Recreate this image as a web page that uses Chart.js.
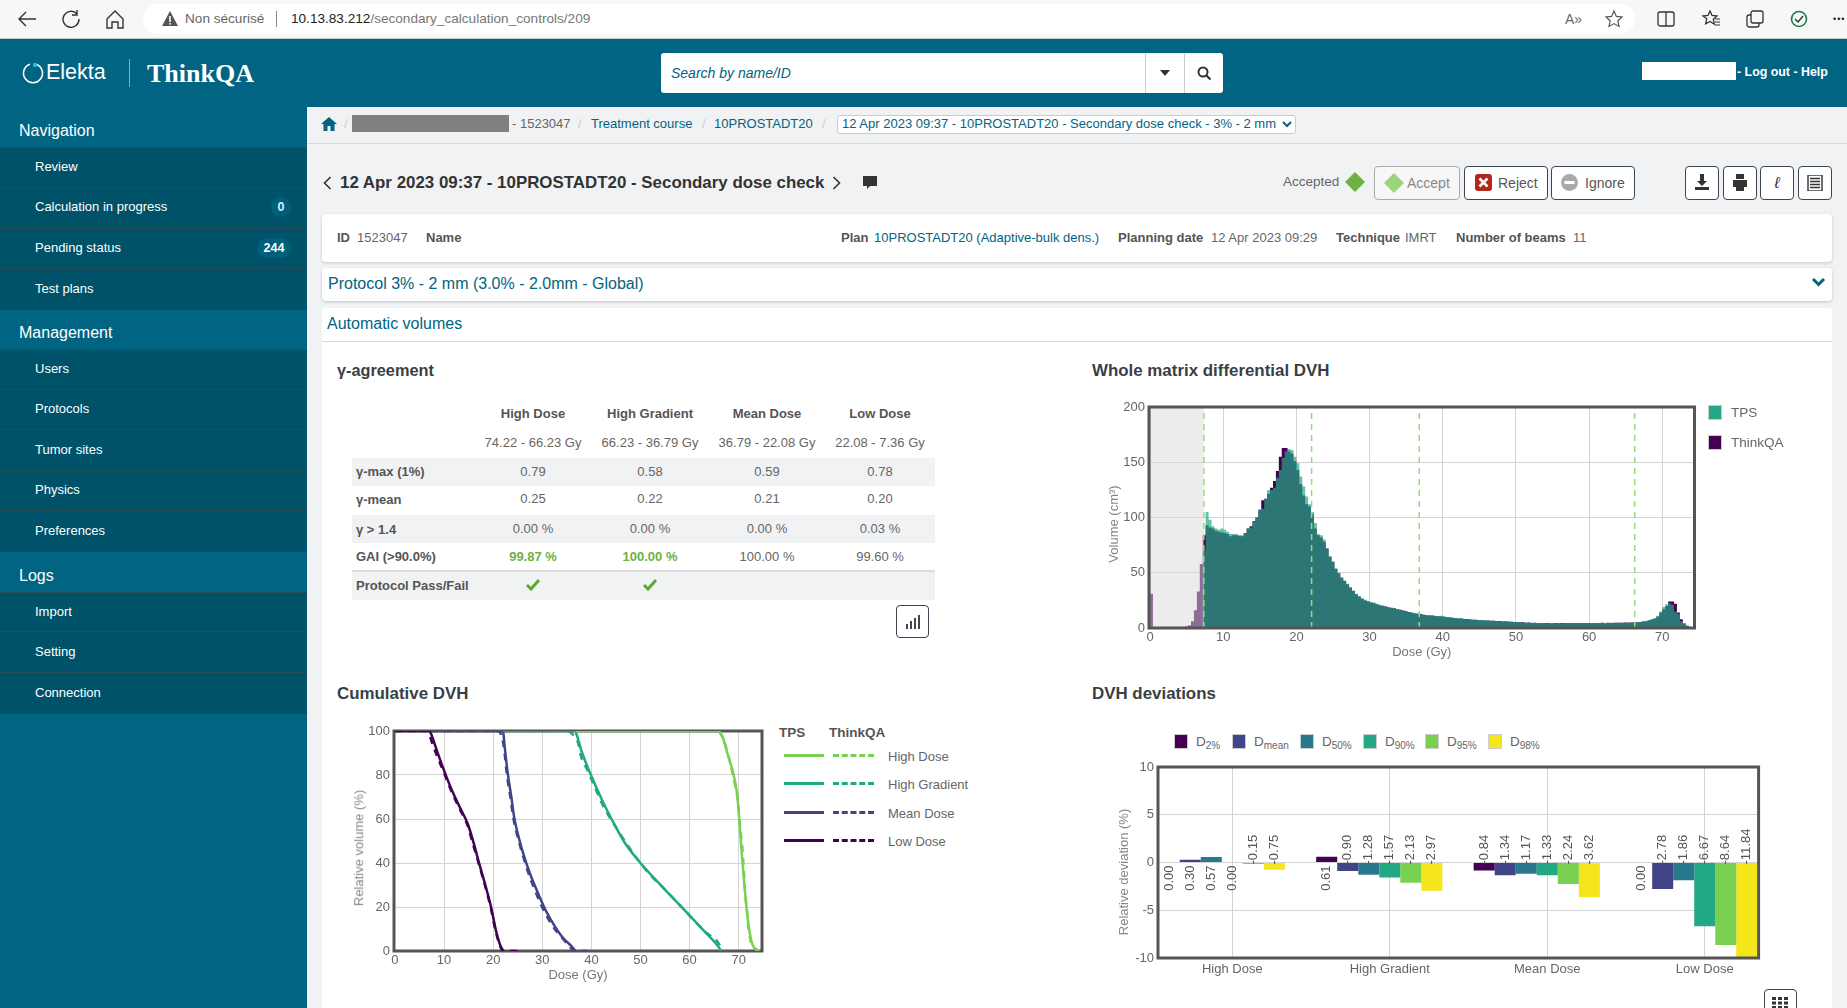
<!DOCTYPE html>
<html>
<head>
<meta charset="utf-8">
<title>ThinkQA</title>
<script src="https://cdn.jsdelivr.net/npm/chart.js@4"></script>
<style>
html, body { margin: 0; padding: 0; width: 1847px; height: 1008px; overflow: hidden; background: #f1f2f4; }
body { font-family: "Liberation Sans", Arial, sans-serif; font-size: 13px; color: #555; position: relative; }
.t { position: absolute; white-space: nowrap; transform: translateY(-50%); line-height: 1.2; }
.c { transform: translate(-50%, -50%); }
.r { transform: translate(-50%, -50%) rotate(-90deg); }
.b { position: absolute; box-sizing: border-box; }
.btn { position: absolute; box-sizing: border-box; border: 1px solid #3c4650; border-radius: 4px; background: #fff; }
canvas { position: absolute; }
sub { font-size: 10px; vertical-align: -3px; line-height: 0; }
svg { position: absolute; }
</style>
</head>
<body>
<canvas id="diff_dvh" width="608" height="269" style="left:1102px;top:395px;z-index:2"></canvas>
<canvas id="cum_dvh" width="427" height="268" style="left:347px;top:719px;z-index:2"></canvas>
<canvas id="dev_dvh" width="660" height="233" style="left:1112px;top:755px;z-index:2"></canvas>
<script>
//////////////////////////////dades differential DVH////////////////////////////
const doseBins = [
  0,0.4,0.8,1.2,1.6,2,2.4,2.8,3.2,3.6,
  4,4.4,4.8,5.2,5.6,6,6.4,6.8,7.2,7.6,
  8,8.4,8.8,9.2,9.6,10,10.4,10.8,11.2,11.6,
  12,12.4,12.8,13.2,13.6,14,14.4,14.8,15.2,15.6,
  16,16.4,16.8,17.2,17.6,18,18.4,18.8,19.2,19.6,
  20,20.4,20.8,21.2,21.6,22,22.4,22.8,23.2,23.6,
  24,24.4,24.8,25.2,25.6,26,26.4,26.8,27.2,27.6,
  28,28.4,28.8,29.2,29.6,30,30.4,30.8,31.2,31.6,
  32,32.4,32.8,33.2,33.6,34,34.4,34.8,35.2,35.6,
  36,36.4,36.8,37.2,37.6,38,38.4,38.8,39.2,39.6,
  40,40.4,40.8,41.2,41.6,42,42.4,42.8,43.2,43.6,
  44,44.4,44.8,45.2,45.6,46,46.4,46.8,47.2,47.6,
  48,48.4,48.8,49.2,49.6,50,50.4,50.8,51.2,51.6,
  52,52.4,52.8,53.2,53.6,54,54.4,54.8,55.2,55.6,
  56,56.4,56.8,57.2,57.6,58,58.4,58.8,59.2,59.6,
  60,60.4,60.8,61.2,61.6,62,62.4,62.8,63.2,63.6,
  64,64.4,64.8,65.2,65.6,66,66.4,66.8,67.2,67.6,
  68,68.4,68.8,69.2,69.6,70,70.4,70.8,71.2,71.6,
  72,72.4,72.8,73.2,73.6,74,74.4
];
const diffTps = [
  0,0,0,0,0,0,0,0,0,0,
  0,0,0,0,0,0,0,0,70,105,
  98,92,90,89,90,89,87,85,85,85,
  84,84,86,90,91,96,100,107,108,117,
  125,125,127,136,143,154,160,162,161,155,
  149,137,128,119,112,105,95,85,84,80,
  72,65,60,54,50,46,43,40,37,34,
  31,29,27,25.5,24.5,23.5,23,22,21,20.5,
  19.5,19,18.5,18,17,16.5,15.5,15,14.5,14,
  13.5,13,12.5,12,11.8,11.5,11,11,10.8,11,
  10.5,10,9.5,9,9,8.8,8.5,8.2,8,7.8,
  7.5,7.3,7.2,7,7,6.8,6.6,6.5,6.4,6.2,
  6,6,5.8,5.6,5.5,5.4,5.2,5,4.9,4.8,
  4.7,4.6,4.5,4.5,4.4,4.4,4.3,4.5,4.4,4.5,
  4.4,4.6,4.5,4.4,4.5,4.6,4.5,4.4,4.5,4.4,
  4.3,4.4,4.5,4.4,4.6,4.5,4.6,4.7,4.6,4.8,
  4.7,4.8,4.8,4.9,4.9,5,5.2,5.5,5.8,6.3,
  7.2,8,8.5,11,15,19,21.5,22.5,21,15,
  13,6,4,2,0.8,0.3,0
];
const diffThinkQA = [
  31,0,0,0,0,0,0,0,0,0.2,
  0.5,1,1.5,2.5,6,16,33,58,84,93,
  91,90,88,87,86.5,86,85,83,84,84,
  83.5,83,86,90,92,96.5,100,107,115.5,117,
  121.5,127,133,142,155,163,163,160,158,151,
  143,130,120,112,110,103,90,84,82,78,
  72,64.5,60,53.5,49.5,45.5,42.5,39.5,36.5,33.5,
  30.5,28.5,26.5,25,24,23,22.5,21.5,20.5,20,
  19.5,18.8,18.2,17.8,17,16.5,15.8,15.2,14.5,13.8,
  13.2,12.8,12.6,12,11.6,11.4,11.2,10.9,10.6,10.5,
  10.2,9.8,9.5,9.2,8.8,8.7,8.6,8.1,8.1,7.7,
  7.4,7.4,7.1,7.1,6.9,6.9,6.5,6.6,6.3,6.3,
  5.9,6.1,5.7,5.7,5.4,5.5,5.1,5.1,4.8,4.9,
  4.6,4.7,4.4,4.6,4.3,4.5,4.4,4.4,4.5,4.4,
  4.5,4.5,4.6,4.3,4.6,4.5,4.6,4.3,4.6,4.3,
  4.4,4.3,4.6,4.3,4.7,4.4,4.7,4.6,4.7,4.7,
  4.8,4.7,4.9,4.8,5,4.9,5.3,5.4,5.9,6.2,
  7,7.8,8.5,10.5,14,17,20,24,24,22,
  14,8,4,2,0.8,0.3,0
];
const doseLimits = [7.36, 22.08, 36.79, 66.23];
////////////////////////////////////////////////////////////////////////////////

//////////////////////////////dades cumulative DVH//////////////////////////////
const highTpsDose = [36.79,65.5,66.1,66.8,67.8,68.8,69.6,70,70.3,70.7,71.1,71.6,72.2,72.8,73.5,74.2];
const highTpsVol = [100,100,99.5,96.8,89,81.7,72.6,63.5,54.4,42.3,31.8,19.7,9,3,0.8,0];
const highQaDose = [36.79,65.7,66.4,67.1,68.1,69.1,69.8,70.4,70.8,71.1,71.3,71.7,72,72.6,73.5,74.2];
const highQaVol = [100,100,98.5,95,87,77,69,54.4,45.5,34.8,27,18,10.4,3,0.8,0];
const gradTpsDose = [22.08,36.6,36.9,38,40,42.1,44.1,46.8,50,54.6,60.1,63,66.1,66.4];
const gradTpsVol = [100,100,99,90.8,79.5,69,60,49.2,40,28.8,15.9,9,1.2,0];
const gradQaDose = [22.08,35.2,35.9,37.4,37.7,39.3,40.9,42.6,44.7,46.8,49.2,51.9,54.6,60.1,63,66.4,66.6];
const gradQaVol = [100,100,99,93.8,90,81.7,73.4,65,57.4,50,42.3,34.8,28.8,15.9,9,1.5,0];
const meanTpsDose = [7.36,21.9,22.08,22.3,23,23.7,24.3,25.4,26.4,27.7,29.1,30.8,32.5,34.2,35.9,36.79];
const meanTpsVol = [100,100,99,93.8,80.2,70,60.5,50,42.3,34,26.5,18,11.4,6,2.3,0];
const meanQaDose = [7.36,21,21.6,22.2,22.8,23.5,24.1,25.2,26.2,27.4,28.7,30.4,32.1,34,35.5,36.5,39.3];
const meanQaVol = [100,100,98.3,92.3,80,70,60.5,50,42.3,34,26.5,18,11.4,6,2.3,0,0];
const lowTpsDose = [0,7,7.3,7.8,8.75,10,11.8,13.5,14.85,16.2,17.2,18.4,19.6,20.6,21.5,22.08];
const lowTpsVol = [100,100,99,96,89.7,82,72,64,57.6,47.7,39.4,30,19.7,9,2.3,0];
const lowQaDose = [0,6.5,7,7.5,8.5,9.8,11.6,13.3,14.7,16,17.1,18.3,19.5,20.5,21.4,22,25.7];
const lowQaVol = [100,100,98.5,95,89,82,72,64,57.6,47.7,39.4,30,19.7,9,2.3,0,0];
////////////////////////////////////////////////////////////////////////////////

//////////////////////////////dades DVH deviations//////////////////////////////
const regions = ["High Dose", "High Gradient", "Mean Dose", "Low Dose"];
const regionColors = ["#7ad151", "#22a884", "#414487", "#440154"];
const d2 = [0.00, 0.61, -0.84, 0.00];
const dMean = [0.30, -0.90, -1.34, -2.78];
const d50 = [0.57, -1.28, -1.17, -1.86];
const d90 = [0.00, -1.57, -1.33, -6.67];
const d95 = [-0.15, -2.13, -2.24, -8.64];
const d98 = [-0.75, -2.97, -3.62, -11.84];
const devNames = ["2%", "mean", "50%", "90%", "95%", "98%"];
const devColors = ["#440154", "#414487", "#2a788e", "#22a884", "#7ad151", "#f5e51b"];
////////////////////////////////////////////////////////////////////////////////

//////////////////////////////dades taula gamma/////////////////////////////////
const bandRanges = ["74.22 - 66.23 Gy", "66.23 - 36.79 Gy", "36.79 - 22.08 Gy", "22.08 - 7.36 Gy"];
const gammaMax = ["0.79", "0.58", "0.59", "0.78"];
const gammaMean = ["0.25", "0.22", "0.21", "0.20"];
const gammaOver = ["0.00 %", "0.00 %", "0.00 %", "0.03 %"];
const gai = ["99.87 %", "100.00 %", "100.00 %", "99.60 %"];
////////////////////////////////////////////////////////////////////////////////

/////////////////////////////helpers per la pagina//////////////////////////////
function box(x, y, w, h, css) {
  let d = document.createElement('div');
  d.className = 'b';
  d.style.cssText = 'left:' + x + 'px;top:' + y + 'px;width:' + w + 'px;height:' + h + 'px;' + (css || '');
  document.body.appendChild(d);
  return d;
}
function text(s, x, y, css, centered) {
  let d = document.createElement('div');
  d.className = centered ? 't c' : 't';
  d.style.cssText = 'left:' + x + 'px;top:' + y + 'px;z-index:3;' + (css || '');
  d.innerHTML = s;
  document.body.appendChild(d);
  return d;
}
function button(x, y, w, h, inner, css) {
  let d = document.createElement('div');
  d.className = 'btn';
  d.style.cssText = 'left:' + x + 'px;top:' + y + 'px;width:' + w + 'px;height:' + h + 'px;z-index:3;' + (css || '');
  d.innerHTML = inner || '';
  document.body.appendChild(d);
  return d;
}
function icon(x, y, w, h, inner) {
  let s = document.createElementNS('http://www.w3.org/2000/svg', 'svg');
  s.setAttribute('width', w);
  s.setAttribute('height', h);
  s.setAttribute('viewBox', '0 0 ' + w + ' ' + h);
  s.style.cssText = 'left:' + x + 'px;top:' + y + 'px;z-index:4';
  s.innerHTML = inner;
  document.body.appendChild(s);
}
////////////////////////////////////////////////////////////////////////////////

const TEAL = '#006482';
const DARK = '#005269';

////////////////////////////////barra navegador/////////////////////////////////
box(0, 0, 1847, 39, 'background:#f7f7f7;border-bottom:1px solid #c8c8c8');
box(143, 4, 1492, 30, 'background:#fff;border-radius:15px');
icon(16, 8, 22, 22, '<path d="M20 11H3M10 4l-7 7 7 7" fill="none" stroke="#333" stroke-width="1.4"/>');
icon(60, 8, 22, 22, '<path d="M17 6a8 8 0 1 0 2 5M17 2v5h-5" fill="none" stroke="#333" stroke-width="1.4"/>');
icon(104, 8, 22, 22, '<path d="M3 11l8-8 8 8v9h-5v-6H8v6H3z" fill="none" stroke="#333" stroke-width="1.4"/>');
icon(161, 10, 18, 18, '<path d="M9 1l8 15H1z" fill="#555"/><rect x="8.2" y="6" width="1.6" height="6" fill="#fff"/><rect x="8.2" y="13" width="1.6" height="1.6" fill="#fff"/>');
text('Non sécurisé', 185, 19, 'font-size:13.6px;color:#666');
box(276, 11, 1, 16, 'background:#888');
text('<span style="color:#222">10.13.83.212</span>/secondary_calculation_controls/209', 291, 19, 'font-size:13.6px;color:#777');
text('A»', 1565, 19, 'font-size:14px;color:#666');
icon(1604, 9, 20, 20, '<path d="M10 2l2.4 5.4 5.6.6-4.2 3.8 1.2 5.6L10 14.6 5 17.4l1.2-5.6L2 8l5.6-.6z" fill="none" stroke="#555" stroke-width="1.2"/>');
icon(1656, 9, 20, 20, '<rect x="2" y="3" width="16" height="14" rx="2" fill="none" stroke="#333" stroke-width="1.3"/><path d="M10 3v14" stroke="#333" stroke-width="1.3"/>');
icon(1701, 9, 20, 20, '<path d="M9 2l2 4.5 5 .5-3.7 3.3 1 4.9L9 12.4 4.7 14.7l1-4.9L2 7l5-.5z" fill="none" stroke="#333" stroke-width="1.3"/><path d="M14 13h5M14 16h5M14 10h5" stroke="#333" stroke-width="1.2"/>');
icon(1745, 9, 20, 20, '<rect x="2" y="6" width="12" height="12" rx="2" fill="none" stroke="#333" stroke-width="1.3"/><rect x="6" y="2" width="12" height="12" rx="2" fill="#f7f7f7" stroke="#333" stroke-width="1.3"/>');
icon(1789, 9, 20, 20, '<circle cx="10" cy="10" r="7.5" fill="none" stroke="#1a7a4a" stroke-width="1.6"/><path d="M6 10l3 3 5-6" fill="none" stroke="#333" stroke-width="1.4"/>');
text('•••', 1833, 19, 'font-size:9px;color:#222;letter-spacing:1px');
////////////////////////////////////////////////////////////////////////////////

////////////////////////////////capçalera///////////////////////////////////////
box(0, 39, 1847, 68, 'background:' + TEAL);
icon(20, 60, 26, 26, '<path d="M16 4.2a9.5 9.5 0 1 1-6 0" fill="none" stroke="#fff" stroke-width="1.6"/><circle cx="15" cy="5" r="2.2" fill="#2fb7e0"/>');
text('Elekta', 46, 73, 'font-size:21.5px;color:#fff');
box(129, 59, 1, 28, 'background:#7fb0c0');
text('ThinkQA', 147, 74, 'font-family:\'Liberation Serif\',serif;font-size:26px;font-weight:bold;color:#fff');
box(661, 53, 562, 40, 'background:#fff;border-radius:3px');
box(1145, 53, 1, 40, 'background:#ccc;z-index:2');
box(1184, 53, 1, 40, 'background:#ccc;z-index:2');
text('Search by name/ID', 671, 73, 'font-size:14px;font-style:italic;color:' + TEAL);
icon(1160, 70, 10, 6, '<path d="M0 0h10L5 6z" fill="#333"/>');
icon(1197, 66, 14, 14, '<circle cx="6" cy="6" r="4.5" fill="none" stroke="#333" stroke-width="2"/><path d="M9.5 9.5L13.5 13.5" stroke="#333" stroke-width="2.2"/>');
box(1642, 62, 94, 18, 'background:#fff');
text('- Log out - Help', 1737, 72, 'font-size:12.4px;color:#fff;font-weight:bold');
////////////////////////////////////////////////////////////////////////////////

////////////////////////////////menu lateral////////////////////////////////////
box(0, 107, 307, 901, 'background:' + TEAL);
const sideHeaders = [["Navigation", 131], ["Management", 333], ["Logs", 576]];
const sideRows = [
  ["Review", 147, 187], ["Calculation in progress", 187, 227], ["Pending status", 228, 268], ["Test plans", 268, 309],
  ["Users", 349, 389], ["Protocols", 389, 429], ["Tumor sites", 429, 470], ["Physics", 470, 510], ["Preferences", 510, 551],
  ["Import", 592, 632], ["Setting", 631, 672], ["Connection", 672, 713]
];
sideHeaders.forEach(h => text(h[0], 19, h[1], 'font-size:16px;color:#fff'));
sideRows.forEach(r => {
  box(0, r[1], 307, r[2] - r[1] + 1, 'background:' + DARK + ';border-top:1px solid #2d4a58');
  text(r[0], 35, (r[1] + r[2]) / 2, 'font-size:13px;color:#fff');
});
box(271, 197, 20, 20, 'background:#00607c;border-radius:10px;z-index:2');
text('0', 281, 207, 'font-size:12.5px;color:#dfeff4;font-weight:bold', true);
box(257, 238, 34, 20, 'background:#00607c;border-radius:10px;z-index:2');
text('244', 274, 248, 'font-size:12.5px;color:#fff;font-weight:bold', true);
////////////////////////////////////////////////////////////////////////////////

////////////////////////////////breadcrumb i titol//////////////////////////////
box(307, 143, 1540, 1, 'background:#d8d8d8');
icon(321, 116, 16, 16, '<path d="M8 1L0 8h2.5v7h4v-5h3v5h4V8H16z" fill="' + TEAL + '"/>');
text('/', 344, 124, 'color:#ccc');
box(352, 115, 157, 17, 'background:#808080');
text('- 1523047', 512, 124, 'color:#666');
text('/', 578, 124, 'color:#ccc');
text('Treatment course', 591, 124, 'color:' + TEAL);
text('/', 702, 124, 'color:#ccc');
text('10PROSTADT20', 714, 124, 'color:' + TEAL);
text('/', 822, 124, 'color:#ccc');
box(837, 115, 459, 19, 'background:#fff;border:1px solid #c8ccd0;border-radius:3px');
text('12 Apr 2023 09:37 - 10PROSTADT20 - Secondary dose check - 3% - 2 mm', 842, 124, 'color:' + TEAL);
icon(1282, 121, 10, 7, '<path d="M1 1l4 4 4-4" fill="none" stroke="' + TEAL + '" stroke-width="2"/>');

icon(323, 176, 9, 14, '<path d="M7.5 1L1.5 7l6 6" fill="none" stroke="#333" stroke-width="1.6"/>');
text('12 Apr 2023 09:37 - 10PROSTADT20 - Secondary dose check', 340, 183, 'font-size:16.9px;font-weight:bold;color:#333');
icon(832, 176, 9, 14, '<path d="M1.5 1l6 6-6 6" fill="none" stroke="#333" stroke-width="1.6"/>');
icon(862, 175, 16, 16, '<path d="M1 1h14v10h-7l-3 3v-3H1z" fill="#333"/>');
text('Accepted', 1283, 182, 'font-size:13.5px;color:#666');
icon(1345, 172, 20, 20, '<path d="M10 0l10 10-10 10L0 10z" fill="#6cb33f"/>');
button(1374, 166, 86, 34, '', 'border-color:#aaa;background:#f7f7f7');
icon(1384, 173, 20, 20, '<path d="M10 0l10 10-10 10L0 10z" fill="#9ad57c"/>');
text('Accept', 1407, 183, 'color:#888;font-size:14px');
button(1464, 166, 84, 34);
icon(1475, 174, 17, 17, '<rect width="17" height="17" rx="3" fill="#b3261e"/><path d="M4.5 4.5l8 8M12.5 4.5l-8 8" stroke="#fff" stroke-width="2.6"/>');
text('Reject', 1498, 183, 'color:#555;font-size:14px');
button(1551, 166, 84, 34);
icon(1561, 174, 17, 17, '<circle cx="8.5" cy="8.5" r="8.5" fill="#aaa"/><rect x="3.5" y="7" width="10" height="3" fill="#fff"/>');
text('Ignore', 1585, 183, 'color:#555;font-size:14px');
button(1685, 166, 34, 34);
icon(1694, 174, 16, 17, '<path d="M6 0h4v7h3l-5 5-5-5h3zM1 13h14v3H1z" fill="#333"/>');
button(1723, 166, 34, 34);
icon(1732, 174, 16, 17, '<path d="M4 0h8v5H4zM1 6h14v7h-3v4H4v-4H1z" fill="#333"/>');
button(1760, 166, 34, 34);
text('ℓ', 1777, 183, 'font-size:16px;color:#333;font-style:italic', true);
button(1798, 166, 34, 34);
icon(1807, 175, 16, 16, '<rect x="1" y="0" width="14" height="16" fill="none" stroke="#333" stroke-width="1.4"/><path d="M3 3.5h10M3 6.5h10M3 9.5h10M3 12.5h10" stroke="#333" stroke-width="1.4"/>');
////////////////////////////////////////////////////////////////////////////////

////////////////////////////////targetes////////////////////////////////////////
box(322, 214, 1510, 48, 'background:#fff;border-radius:4px;box-shadow:0 1px 3px #c4c6c8');
box(322, 268, 1510, 33, 'background:#fff;border-radius:4px;box-shadow:0 1px 3px #c4c6c8');
box(322, 308, 1510, 700, 'background:#fff;border-radius:4px 4px 0 0');
box(322, 341, 1510, 1, 'background:#d9d9d9');
const infoBold = [["ID", 337], ["Name", 426], ["Plan", 841], ["Planning date", 1118], ["Technique", 1336], ["Number of beams", 1456]];
const infoPlain = [["1523047", 357, '#666'], ["10PROSTADT20 (Adaptive-bulk dens.)", 874, TEAL], ["12 Apr 2023 09:29", 1211, '#666'], ["IMRT", 1405, '#666'], ["11", 1573, '#666']];
infoBold.forEach(i => text(i[0], i[1], 238, 'font-size:13px;font-weight:bold;color:#555'));
infoPlain.forEach(i => text(i[0], i[1], 238, 'font-size:13px;color:' + i[2]));
text('Protocol 3% - 2 mm (3.0% - 2.0mm - Global)', 328, 284, 'font-size:16px;color:' + TEAL);
icon(1811, 277, 15, 11, '<path d="M2 2l5.5 5.5L13 2" fill="none" stroke="' + TEAL + '" stroke-width="3"/>');
text('Automatic volumes', 327, 324, 'font-size:16px;color:' + TEAL);
const sectionStyle = 'font-size:16.9px;font-weight:bold;color:#3a3f45';
text('γ-agreement', 337, 371, 'font-size:16.3px;font-weight:bold;color:#3a3f45');
text('Whole matrix differential DVH', 1092, 371, sectionStyle);
text('Cumulative DVH', 337, 694, sectionStyle);
text('DVH deviations', 1092, 694, sectionStyle);
////////////////////////////////////////////////////////////////////////////////

////////////////////////////////taula gamma/////////////////////////////////////
const tableCols = [533, 650, 767, 880];
box(352, 458, 583, 28, 'background:#f1f2f4');
box(352, 515, 583, 28, 'background:#f1f2f4');
box(352, 570, 583, 30, 'background:#f1f2f4;border-top:2px solid #dcdcdc');
regions.forEach((r, i) => text(r, tableCols[i], 414, 'font-size:13px;font-weight:bold;color:#555', true));
bandRanges.forEach((r, i) => text(r, tableCols[i], 443, 'font-size:13px;color:#666', true));
text('γ-max (1%)', 356, 472, 'font-size:13px;font-weight:bold');
text('γ-mean', 356, 500, 'font-size:13px;font-weight:bold');
text('γ > 1.4', 356, 530, 'font-size:13px;font-weight:bold');
text('GAI (>90.0%)', 356, 557, 'font-size:13px;font-weight:bold');
text('Protocol Pass/Fail', 356, 586, 'font-size:13px;font-weight:bold');
gammaMax.forEach((v, i) => text(v, tableCols[i], 472, 'font-size:13px;color:#666', true));
gammaMean.forEach((v, i) => text(v, tableCols[i], 499, 'font-size:13px;color:#666', true));
gammaOver.forEach((v, i) => text(v, tableCols[i], 529, 'font-size:13px;color:#666', true));
gai.forEach((v, i) => text(v, tableCols[i], 557, 'font-size:13px;' + (i < 2 ? 'font-weight:bold;color:#6cb33f' : 'color:#666'), true));
[533, 650].forEach(x => icon(x - 7, 578, 14, 13, '<path d="M1 7l4 4 8-9" fill="none" stroke="#5aab35" stroke-width="3"/>'));
button(896, 605, 33, 33);
icon(905, 614, 16, 16, '<path d="M1 10h2v5H1zM5 7h2v8H5zM9 4h2v11H9zM13 1h2v14h-2z" fill="#445"/>');
button(1764, 989, 33, 30);
icon(1772, 997, 17, 12, '<path d="M0 0h4v3H0zM6 0h4v3H6zM12 0h4v3h-4zM0 4.5h4v3H0zM6 4.5h4v3H6zM12 4.5h4v3h-4zM0 9h4v3H0zM6 9h4v3H6zM12 9h4v3h-4z" fill="#333"/>');
////////////////////////////////////////////////////////////////////////////////

////////////////////////////////llegendes i titols//////////////////////////////
function swatch(x, y, color) {
  box(x, y - 7, 14, 15, 'background:' + color + ';border:1px solid #ccc;padding:0;outline:1px solid #fff;z-index:3');
}
swatch(1708, 412, '#22a884');
text('TPS', 1731, 413, 'font-size:13.5px;color:#666');
swatch(1708, 442, '#440154');
text('ThinkQA', 1731, 443, 'font-size:13.5px;color:#666');

text('TPS', 779, 733, 'font-size:13.5px;font-weight:bold;color:#555');
text('ThinkQA', 829, 733, 'font-size:13.5px;font-weight:bold;color:#555');
[755, 783, 812, 840].forEach((y, i) => {
  box(784, y - 1, 40, 0, 'border-top:3px solid ' + regionColors[i]);
  box(833, y - 1, 41, 0, 'border-top:3px dashed ' + regionColors[i]);
  text(regions[i], 888, y + 2, 'font-size:13px;color:#666');
});

const devSwatchX = [1174, 1232, 1300, 1363, 1425, 1488];
const devTextX = [1196, 1254, 1322, 1385, 1447, 1510];
devNames.forEach((n, i) => {
  swatch(devSwatchX[i], 741, devColors[i]);
  text('D<sub>' + n + '</sub>', devTextX[i], 742, 'font-size:13.5px;color:#666');
});

function axisTitle(s, x, y) {
  let d = text(s, x, y, 'font-size:13px;color:#888');
  d.className = 't r';
}
axisTitle('Volume (cm³)', 1114, 524);
axisTitle('Relative volume (%)', 359, 848);
axisTitle('Relative deviation (%)', 1124, 872);
////////////////////////////////////////////////////////////////////////////////

////////////////////Creacio de grafiques////////////////////////////////////////
const TICK_FONT = { family: 'Liberation Sans', size: 13 };
const GRID = '#d4d4d4';

function plotBorder(hook) {
  let p = { id: 'plotBorder' + hook };
  p[hook] = function(chart) {
    let a = chart.chartArea;
    let c = chart.ctx;
    c.save();
    c.strokeStyle = '#555';
    c.lineWidth = 3;
    c.strokeRect(a.left, a.top, a.right - a.left, a.bottom - a.top);
    c.restore();
  };
  return p;
}

function axis(opts) {
  return {
    type: 'linear',
    min: opts.min,
    max: opts.max,
    offset: false,
    afterFit: opts.afterFit,
    title: { display: !!opts.title, text: opts.title, color: '#777', font: TICK_FONT, padding: { top: 0, bottom: 4 } },
    border: { display: false },
    grid: { color: GRID, drawTicks: false, offset: false, lineWidth: 1 },
    ticks: {
      stepSize: opts.step,
      includeBounds: false,
      maxRotation: 0,
      minRotation: 0,
      autoSkip: false,
      padding: opts.pad,
      color: '#666',
      font: TICK_FONT,
      callback: opts.callback
    }
  };
}

// franja grisa per sota del 10% de la dosi
const doseMask = {
  id: 'doseMask',
  afterDatasetDraw(chart, args) {
    if (args.index !== 0) return;
    let a = chart.chartArea;
    let x = chart.scales.x.getPixelForValue(doseLimits[0]);
    chart.ctx.save();
    chart.ctx.fillStyle = 'rgba(217,217,217,0.5)';
    chart.ctx.fillRect(a.left, a.top, x - a.left, a.bottom - a.top);
    chart.ctx.restore();
  }
};

let limitSets = doseLimits.map(d => ({
  type: 'line',
  data: [{ x: d, y: 0 }, { x: d, y: 195.5 }],
  borderColor: '#93dd78',
  borderWidth: 1.5,
  borderDash: [6, 5],
  pointRadius: 0,
  order: -1
}));

new Chart(document.getElementById('diff_dvh').getContext('2d'), {
  type: 'line',
  data: {
    datasets: [
      {
        label: 'TPS',
        data: doseBins.map((d, i) => ({ x: d, y: diffTps[i] })),
        stepped: 'before',
        fill: 'origin',
        backgroundColor: 'rgba(34,168,132,0.7)',
        borderWidth: 0,
        pointRadius: 0,
        order: 0
      },
      {
        label: 'ThinkQA',
        data: doseBins.map((d, i) => ({ x: d, y: diffThinkQA[i] })),
        stepped: 'before',
        fill: 'origin',
        backgroundColor: '#440154',
        borderWidth: 0,
        pointRadius: 0,
        order: 1
      }
    ].concat(limitSets)
  },
  options: {
    responsive: false,
    animation: false,
    devicePixelRatio: 1,
    layout: { padding: { top: 12, right: 15.5, left: 0, bottom: 0 } },
    plugins: { legend: { display: false }, tooltip: { enabled: false } },
    scales: {
      x: axis({ min: -0.14, max: 74.4, step: 10, title: 'Dose (Gy)', pad: 2, afterFit: s => { s.height = 36; } }),
      y: axis({ min: 0, max: 200, step: 50, pad: 4, afterFit: s => { s.width = 47; } })
    }
  },
  plugins: [doseMask, plotBorder('afterDatasetsDraw')]
});

function curve(label, xs, ys, color, dashed) {
  return {
    label: label,
    data: xs.map((d, i) => ({ x: d, y: ys[i] })),
    borderColor: color,
    borderWidth: 2.5,
    borderDash: dashed ? [7, 6] : [],
    cubicInterpolationMode: 'monotone',
    pointRadius: 0,
    fill: false
  };
}

new Chart(document.getElementById('cum_dvh').getContext('2d'), {
  type: 'line',
  data: {
    datasets: [
      curve('High Dose TPS', highTpsDose, highTpsVol, regionColors[0], false),
      curve('High Dose ThinkQA', highQaDose, highQaVol, regionColors[0], true),
      curve('High Gradient TPS', gradTpsDose, gradTpsVol, regionColors[1], false),
      curve('High Gradient ThinkQA', gradQaDose, gradQaVol, regionColors[1], true),
      curve('Mean Dose TPS', meanTpsDose, meanTpsVol, regionColors[2], false),
      curve('Mean Dose ThinkQA', meanQaDose, meanQaVol, regionColors[2], true),
      curve('Low Dose TPS', lowTpsDose, lowTpsVol, regionColors[3], false),
      curve('Low Dose ThinkQA', lowQaDose, lowQaVol, regionColors[3], true)
    ]
  },
  options: {
    responsive: false,
    animation: false,
    devicePixelRatio: 1,
    layout: { padding: { top: 12, right: 12, left: 0, bottom: 0 } },
    plugins: { legend: { display: false }, tooltip: { enabled: false } },
    scales: {
      x: axis({ min: -0.2, max: 74.75, step: 10, title: 'Dose (Gy)', pad: 2, afterFit: s => { s.height = 36; } }),
      y: axis({ min: 0, max: 100, step: 20, pad: 4, afterFit: s => { s.width = 47; } })
    }
  },
  plugins: [plotBorder('beforeDatasetsDraw')]
});

// etiquetes de valor girades sobre cada barra
const barValues = {
  id: 'barValues',
  afterDatasetsDraw(chart) {
    let c = chart.ctx;
    let zero = chart.scales.y.getPixelForValue(0);
    c.save();
    c.font = '13px "Liberation Sans"';
    c.fillStyle = '#555';
    c.textBaseline = 'middle';
    devSeries.forEach((serie, s) => {
      let meta = chart.getDatasetMeta(s);
      serie.forEach((v, i) => {
        c.save();
        c.translate(meta.data[i].x, zero);
        c.rotate(-Math.PI / 2);
        if (v < 0) {
          c.textAlign = 'left';
          c.fillText(v.toFixed(2), -2, 0);
        } else {
          c.textAlign = 'right';
          c.fillText(v.toFixed(2), -3, 0);
        }
        c.restore();
      });
    });
    c.restore();
  }
};

const devSeries = [d2, dMean, d50, d90, d95, d98];
let devSets = devSeries.map((serie, s) => ({
  label: 'D' + devNames[s],
  data: serie.map((v, i) => ({ x: i, y: v })),
  backgroundColor: devColors[s],
  barPercentage: 1,
  categoryPercentage: 0.935
}));
// serie buida: deixa el grup de barres desplaçat a l'esquerra del tick
devSets.push({ label: '', data: regions.map((r, i) => ({ x: i, y: null })), barPercentage: 1, categoryPercentage: 0.935 });

new Chart(document.getElementById('dev_dvh').getContext('2d'), {
  type: 'bar',
  data: { datasets: devSets },
  options: {
    responsive: false,
    animation: false,
    devicePixelRatio: 1,
    layout: { padding: { top: 12, right: 13.4, left: 0, bottom: 0 } },
    plugins: { legend: { display: false }, tooltip: { enabled: false } },
    scales: {
      x: axis({ min: -0.472, max: 3.342, step: 1, pad: 4, callback: v => regions[v], afterFit: s => { s.height = 30; } }),
      y: axis({ min: -10, max: 10, step: 5, pad: 4, afterFit: s => { s.width = 46; } })
    }
  },
  plugins: [plotBorder('afterDatasetsDraw'), barValues]
});
////////////////////////////////////////////////////////////////////////////////
</script>
</body>
</html>
